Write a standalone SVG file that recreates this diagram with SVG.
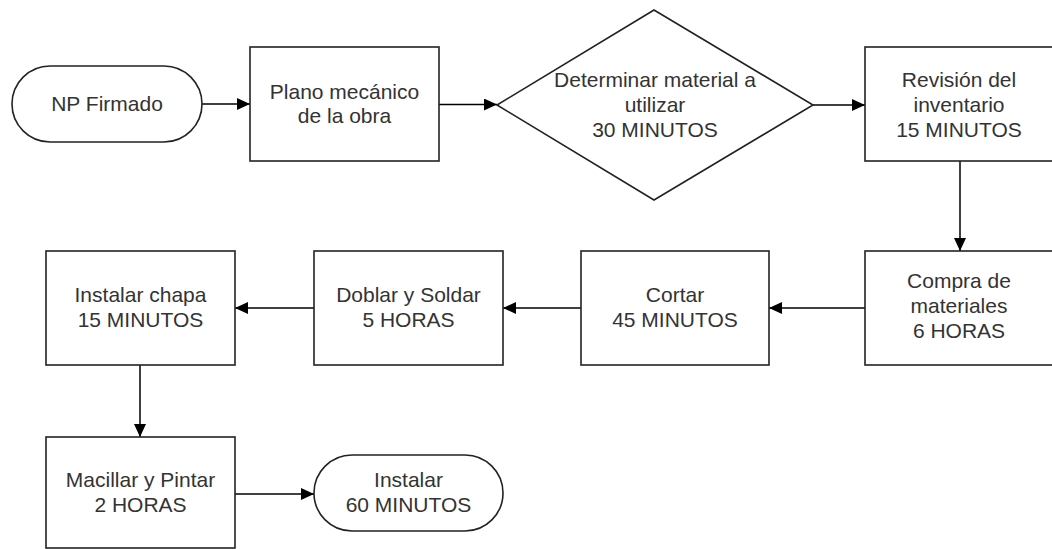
<svg xmlns="http://www.w3.org/2000/svg" width="1052" height="549" viewBox="0 0 1052 549">
<style>
.shape{fill:#fff;stroke:#222;stroke-width:1.6}
.conn{fill:none;stroke:#000;stroke-width:1.5}
text{font-family:"Liberation Sans",Arial,sans-serif;font-size:21px;fill:#333;text-anchor:middle}
</style>
<defs>
<marker id="arr" markerWidth="13" markerHeight="12" refX="13" refY="6" orient="auto" markerUnits="userSpaceOnUse">
<path d="M0,0 L13,6 L0,12 Z" fill="#000"/>
</marker>
</defs>
<rect width="1052" height="549" fill="#fff"/>
<g id="connectors">
<line class="conn" x1="202" y1="104" x2="250" y2="104" marker-end="url(#arr)"/>
<line class="conn" x1="439" y1="104.5" x2="497" y2="104.5" marker-end="url(#arr)"/>
<line class="conn" x1="813" y1="105" x2="865" y2="105" marker-end="url(#arr)"/>
<line class="conn" x1="960" y1="161" x2="960" y2="251" marker-end="url(#arr)"/>
<line class="conn" x1="865" y1="308" x2="769" y2="308" marker-end="url(#arr)"/>
<line class="conn" x1="581" y1="308" x2="503" y2="308" marker-end="url(#arr)"/>
<line class="conn" x1="314" y1="308" x2="235" y2="308" marker-end="url(#arr)"/>
<line class="conn" x1="140" y1="365" x2="140" y2="437" marker-end="url(#arr)"/>
<line class="conn" x1="235" y1="494" x2="314" y2="494" marker-end="url(#arr)"/>
</g>
<g id="np-firmado">
<rect class="shape" x="12" y="66" width="190" height="76" rx="38" ry="38"/>
<text x="107" y="111">NP Firmado</text>
</g>
<g id="plano">
<rect class="shape" x="250" y="47" width="189" height="114"/>
<text x="344.5" y="99">Plano mecánico</text>
<text x="344.5" y="123">de la obra</text>
</g>
<g id="determinar">
<polygon class="shape" points="654,10 813,105 654,200 497,105"/>
<text x="655" y="87">Determinar material a</text>
<text x="655" y="112">utilizar</text>
<text x="655" y="137">30 MINUTOS</text>
</g>
<g id="revision">
<rect class="shape" x="865" y="47" width="189" height="114"/>
<text x="959" y="87">Revisión del</text>
<text x="959" y="112">inventario</text>
<text x="959" y="137">15 MINUTOS</text>
</g>
<g id="compra">
<rect class="shape" x="865" y="251" width="189" height="114"/>
<text x="959" y="288">Compra de</text>
<text x="959" y="313">materiales</text>
<text x="959" y="338">6 HORAS</text>
</g>
<g id="cortar">
<rect class="shape" x="581" y="251" width="188" height="114"/>
<text x="675" y="302">Cortar</text>
<text x="675" y="327">45 MINUTOS</text>
</g>
<g id="doblar">
<rect class="shape" x="314" y="251" width="189" height="114"/>
<text x="408.5" y="302">Doblar y Soldar</text>
<text x="408.5" y="327">5 HORAS</text>
</g>
<g id="instalar-chapa">
<rect class="shape" x="46" y="251" width="189" height="114"/>
<text x="140.5" y="302">Instalar chapa</text>
<text x="140.5" y="327">15 MINUTOS</text>
</g>
<g id="macillar">
<rect class="shape" x="46" y="437" width="189" height="111"/>
<text x="140.5" y="487">Macillar y Pintar</text>
<text x="140.5" y="512">2 HORAS</text>
</g>
<g id="instalar">
<rect class="shape" x="314" y="455" width="189" height="76" rx="38" ry="38"/>
<text x="408.5" y="487">Instalar</text>
<text x="408.5" y="512">60 MINUTOS</text>
</g>
</svg>
